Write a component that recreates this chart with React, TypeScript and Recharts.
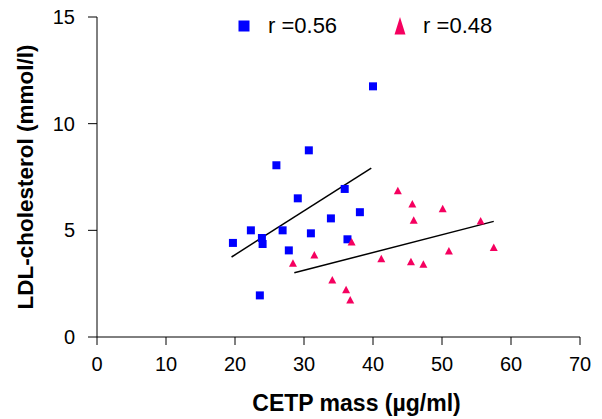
import { ScatterChart, Scatter, XAxis, YAxis, ReferenceLine, Legend } from 'recharts';

const FONT = '"Liberation Sans", Arial, Helvetica, sans-serif';
const BLUE = '#0000ff';
const PINK = '#f5005f';

const X_TICKS = [0, 10, 20, 30, 40, 50, 60, 70];
const Y_TICKS = [0, 5, 10, 15];

// group 1 (squares)
const blueX = [40.0, 30.7, 26.0, 35.9, 29.1, 38.1, 33.9, 22.3, 26.9, 31.0, 23.9, 24.0, 36.3, 19.7, 27.8, 23.6];
const blueY = [11.75, 8.75, 8.05, 6.94, 6.5, 5.85, 5.56, 5.0, 5.0, 4.86, 4.64, 4.36, 4.58, 4.41, 4.06, 1.95];

// group 2 (triangles)
const pinkX = [43.6, 45.7, 50.1, 45.9, 55.6, 36.9, 31.5, 51.0, 57.5, 28.4, 41.2, 45.5, 47.3, 34.1, 36.1, 36.7];
const pinkY = [6.86, 6.24, 6.01, 5.47, 5.44, 4.45, 3.84, 4.03, 4.19, 3.46, 3.67, 3.53, 3.41, 2.67, 2.22, 1.73];

// regression line end points
const blueFit = [
  { x: 19.5, y: 3.75 },
  { x: 39.75, y: 7.92 },
];
const pinkFit = [
  { x: 28.6, y: 3.01 },
  { x: 57.5, y: 5.42 },
];

const SERIES_NAMES = ['r =0.56', 'r =0.48'];

const blueData = blueX.map((x, i) => ({ x, y: blueY[i] }));
const pinkData = pinkX.map((x, i) => ({ x, y: pinkY[i] }));

const Square = ({ cx, cy }: any) => <rect x={cx - 4} y={cy - 4} width={8} height={8} fill={BLUE} />;

const Triangle = ({ cx, cy }: any) => (
  <polygon points={`${cx},${cy - 4} ${cx + 4},${cy + 3.5} ${cx - 4},${cy + 3.5}`} fill={PINK} />
);

const renderLegend = () => (
  <div style={{ display: 'flex', alignItems: 'center', fontFamily: FONT, fontSize: 22, color: '#000', whiteSpace: 'nowrap' }}>
    <svg width={12} height={12} style={{ marginRight: 18, flexShrink: 0, display: 'block' }}>
      <rect x={0.5} y={0.5} width={11} height={11} fill={BLUE} />
    </svg>
    <span style={{ marginRight: 57 }}>{SERIES_NAMES[0]}</span>
    <svg width={12} height={18} style={{ marginRight: 17, flexShrink: 0, display: 'block' }}>
      <polygon points="6,0 11.5,17.5 0.5,17.5" fill={PINK} />
    </svg>
    <span>{SERIES_NAMES[1]}</span>
  </div>
);

const XTitle = ({ viewBox }: any) => (
  <text
    x={viewBox.x + viewBox.width / 2 + 18}
    y={viewBox.y + viewBox.height - 8}
    textAnchor="middle"
    fontFamily={FONT}
    fontSize={23}
    fontWeight="bold"
    fill="#000"
  >
    CETP mass (µg/ml)
  </text>
);

const YTitle = ({ viewBox }: any) => {
  const cx = viewBox.x + 33;
  const cy = viewBox.y + viewBox.height / 2;
  return (
    <text
      transform={`translate(${cx},${cy}) rotate(-90)`}
      textAnchor="middle"
      fontFamily={FONT}
      fontSize={22.5}
      fontWeight="bold"
      fill="#000"
    >
      LDL-cholesterol (mmol/l)
    </text>
  );
};

export default function App() {
  return (
    <div>
      <style>{'body{margin:0;background:#fff}'}</style>
      <ScatterChart
        width={602}
        height={419}
        margin={{ top: 17, right: 22, bottom: 0, left: 0 }}
        style={{ fontFamily: FONT }}
      >
        <XAxis
          type="number"
          dataKey="x"
          domain={[0, 70]}
          ticks={X_TICKS}
          height={82}
          tickSize={8}
          tickMargin={12}
          axisLine={{ stroke: '#000' }}
          tickLine={{ stroke: '#000' }}
          tick={{ fontSize: 20, fill: '#000', fontFamily: FONT }}
          label={{ content: XTitle }}
        />
        <YAxis
          type="number"
          dataKey="y"
          domain={[0, 15]}
          ticks={Y_TICKS}
          width={97}
          tickSize={9}
          tickMargin={13}
          axisLine={{ stroke: '#000' }}
          tickLine={{ stroke: '#000' }}
          tick={{ fontSize: 20, fill: '#000', fontFamily: FONT }}
          label={{ content: YTitle }}
        />
        <Legend
          layout="horizontal"
          verticalAlign="middle"
          align="center"
          content={renderLegend}
          wrapperStyle={{ top: 13, left: 238, width: 'auto', height: 'auto' }}
        />
        <Scatter name={SERIES_NAMES[0]} data={blueData} shape={Square} isAnimationActive={false} />
        <Scatter name={SERIES_NAMES[1]} data={pinkData} shape={Triangle} isAnimationActive={false} />
        <ReferenceLine segment={blueFit} stroke="#000" strokeWidth={1.5} />
        <ReferenceLine segment={pinkFit} stroke="#000" strokeWidth={1.5} />
      </ScatterChart>
    </div>
  );
}
